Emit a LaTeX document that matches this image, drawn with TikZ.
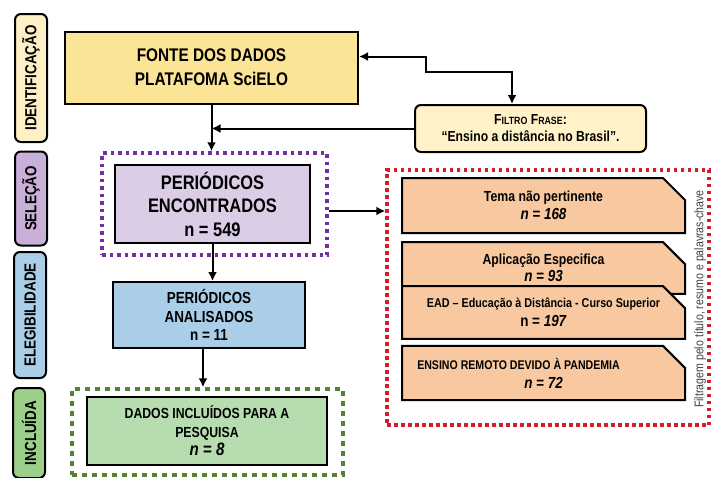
\documentclass[tikz,border=0pt]{standalone}
\usepackage{fontspec}
\setmainfont[FakeStretch=0.84]{Liberation Sans}
\usepackage{tikz}
\usetikzlibrary{arrows.meta,positioning,shapes.misc}
\definecolor{fontefill}{RGB}{252,228,150}
\definecolor{filtrofill}{RGB}{255,242,200}
\definecolor{identfill}{RGB}{253,240,196}
\definecolor{selfill}{RGB}{220,205,230}
\definecolor{sellabel}{RGB}{200,176,216}
\definecolor{elefill}{RGB}{170,206,232}
\definecolor{inclfill}{RGB}{183,220,175}
\definecolor{incllabel}{RGB}{156,208,138}
\definecolor{excfill}{RGB}{248,200,160}
\definecolor{selframe}{RGB}{112,48,160}
\definecolor{inclframe}{RGB}{84,130,53}
\definecolor{excframe}{RGB}{210,30,40}

\newcommand{\fsz}[1]{\fontsize{#1}{1.3\dimexpr#1pt\relax}\selectfont}

\begin{document}
\begin{tikzpicture}[
  x=1pt, y=-1pt,
  box/.style={draw, line width=2pt, align=center, inner sep=2pt, font=\bfseries},
  fase/.style={box, rotate=90, rounded corners=6pt, minimum height=32, font=\bfseries\fsz{16}},
  excbox/.style={box, fill=excfill, chamfered rectangle,
    chamfered rectangle corners=north east, chamfered rectangle xsep=12pt,
    chamfered rectangle ysep=10pt, minimum width=283},
  frame/.style={line width=3.5pt, minimum width=#1},
  flow/.style={-{Latex[length=9pt,width=9pt]}, line width=2pt}
]
\useasboundingbox (0,0) rectangle (711,477);

% fases
\node[fase, fill=identfill, minimum width=128] (ident) at (31,78) {IDENTIFICAÇÃO};
\node[fase, fill=sellabel, minimum width=94] (selecao) at (31,198.5) {SELEÇÃO};
\node[fase, fill=elefill, minimum width=126] (eleg) at (30,315) {ELEGIBILIDADE};
\node[fase, fill=incllabel, minimum width=90] (inclu) at (29,433) {INCLUÍDA};

% molduras pontilhadas
\node[draw=selframe, frame=225, minimum height=102, dash pattern=on 3.5pt off 4pt] (selbox) at (214.5,204) {};
\node[draw=inclframe, frame=271, minimum height=86, dash pattern=on 5pt off 5pt] (inclbox) at (207.5,432) {};
\node[draw=excframe, frame=322, minimum height=255, dash pattern=on 3.5pt off 3.5pt] (excbox) at (548,297.5) {};

% caixas
\node[box, fill=fontefill, minimum width=293, minimum height=72, font=\bfseries\fontsize{18.3}{24}\selectfont] (fonte) at (211.5,67.5) {FONTE DOS DADOS\\PLATAFOMA SciELO};
\node[box, fill=filtrofill, rounded corners=6pt, minimum width=231, minimum height=47, font=\bfseries\fontsize{14.5}{17}\selectfont] (filtro) at (530.5,128.5)
  {F{\fsz{10.5}ILTRO} F{\fsz{10.5}RASE}:\\``Ensino a distância no Brasil''.};
\node[box, fill=selfill, minimum width=195, minimum height=78, font=\bfseries\fontsize{19.6}{23.5}\selectfont] (encontrados) at (212.5,204) {PERIÓDICOS\\ENCONTRADOS\\n = 549};
\node[box, fill=elefill, minimum width=192, minimum height=66, font=\bfseries\fontsize{16}{18.5}\selectfont] (analisados) at (209,315) {PERIÓDICOS\\ANALISADOS\\n = 11};
\node[box, fill=inclfill, minimum width=240, minimum height=68, font=\bfseries\fontsize{14.6}{18.5}\selectfont] (incluidos) at (207,431) {DADOS INCLUÍDOS PARA A\\PESQUISA\\{\itshape\fsz{18}n = 8}};

% exclusoes
\node[excbox, minimum height=55, font=\bfseries\fontsize{14.6}{18}\selectfont] (tema) at (543.5,205.5) {Tema não pertinente\\{\itshape\fsz{16}n = 168}};
\node[excbox, minimum height=50, font=\bfseries\fontsize{14.6}{17}\selectfont] (aplicacao) at (543.5,268) {Aplicação Especifica\\{\itshape\fsz{16}n = 93}};
\node[excbox, minimum height=49, font=\bfseries\fontsize{12.8}{19}\selectfont] (ead) at (543.5,312.5) {EAD – Educação à Distância - Curso Superior\\{\fsz{16}n = \textit{197}}};
\node[excbox, minimum height=52, font=\bfseries\fontsize{12.6}{19}\selectfont] (remoto) at (543.5,373) {ENSINO REMOTO DEVIDO À PANDEMIA\hspace*{50pt}\\{\itshape\fsz{16}n = 72}};
\node[rotate=90, text=black!75, font=\fsz{12.6}] (nota) at (700,299) {Filtragem pelo título, resumo e palavras-chave};

% conectores
\draw[flow] (fonte.south) -- (fonte.south |- selbox.north);
\draw[flow] (filtro.west) -- (filtro.west -| fonte.south);
\draw[{Latex[length=9pt,width=9pt]}-{Latex[length=9pt,width=9pt]}, line width=2pt]
  ([yshift=-26pt]fonte.north east) -- ++(67,0) -- ++(0,15) -| ([xshift=-18.5pt]filtro.north);
\draw[flow] ([yshift=-7pt]selbox.east) -- ([yshift=-7pt]selbox.east -| excbox.west);
\draw[flow] (encontrados.south) -- (encontrados.south |- analisados.north);
\draw[flow] ([xshift=-6pt]analisados.south) -- ([xshift=-6pt]analisados.south |- inclbox.north);
\end{tikzpicture}
\end{document}
